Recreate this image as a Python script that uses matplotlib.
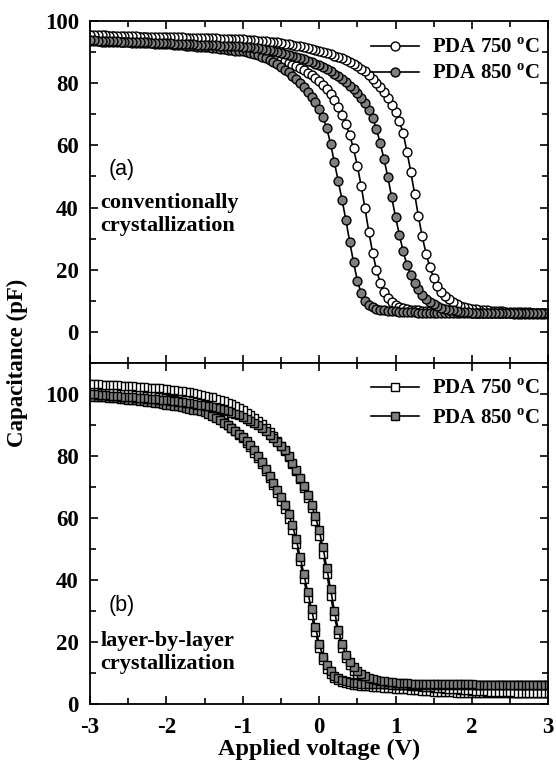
import numpy as np
import matplotlib
matplotlib.use("Agg")
import matplotlib.pyplot as plt
from matplotlib.ticker import MultipleLocator

plt.rcParams["font.family"] = ["Liberation Serif", "DejaVu Serif"]
plt.rcParams["font.weight"] = "bold"
plt.rcParams["axes.unicode_minus"] = False
plt.rcParams["mathtext.fontset"] = "custom"
plt.rcParams["mathtext.rm"] = "Liberation Serif:bold"
plt.rcParams["mathtext.bf"] = "Liberation Serif:bold"

# applied voltage grid, -3 V to 3 V in 0.05 V steps
volts = np.linspace(-3, 3, 121)

# (a) conventionally crystallized, PDA 750 C (two sweep branches)
cap_a750_right = [
    95.6, 95.5, 95.5, 95.4, 95.4, 95.3, 95.3, 95.3, 95.2, 95.2,
    95.1, 95.1, 95.1, 95.0, 95.0, 95.0, 94.9, 94.9, 94.9, 94.8,
    94.8, 94.8, 94.7, 94.7, 94.7, 94.6, 94.6, 94.6, 94.5, 94.5,
    94.5, 94.4, 94.4, 94.4, 94.3, 94.3, 94.3, 94.2, 94.2, 94.1,
    94.1, 94.0, 93.9, 93.8, 93.7, 93.6, 93.5, 93.4, 93.2, 93.1,
    92.9, 92.7, 92.5, 92.3, 92.1, 91.9, 91.6, 91.3, 91.0, 90.7,
    90.4, 90.0, 89.7, 89.3, 88.9, 88.5, 88.0, 87.5, 86.9, 86.3,
    85.5, 84.7, 83.8, 82.7, 81.5, 80.2, 78.8, 77.2, 75.2, 73.0,
    70.6, 67.8, 64.0, 58.0, 51.5, 44.5, 37.2, 30.7, 25.2, 20.8,
    17.4, 14.9, 13.0, 11.6, 10.5, 9.7, 9.0, 8.5, 8.1, 7.8,
    7.5, 7.3, 7.1, 7.0, 6.9, 6.8, 6.7, 6.6, 6.6, 6.5,
    6.5, 6.4, 6.4, 6.3, 6.3, 6.3, 6.2, 6.2, 6.2, 6.1,
    6.1,
]
cap_a750_left = [
    95.4, 95.3, 95.3, 95.2, 95.2, 95.1, 95.1, 95.0, 95.0, 94.9,
    94.9, 94.8, 94.8, 94.7, 94.7, 94.6, 94.5, 94.5, 94.4, 94.3,
    94.3, 94.2, 94.1, 94.0, 93.9, 93.8, 93.7, 93.6, 93.5, 93.3,
    93.2, 93.0, 92.9, 92.7, 92.5, 92.3, 92.1, 91.9, 91.7, 91.4,
    91.2, 90.9, 90.6, 90.3, 90.0, 89.6, 89.2, 88.8, 88.4, 88.0,
    87.5, 87.0, 86.5, 86.0, 85.4, 84.8, 84.1, 83.3, 82.5, 81.6,
    80.6, 79.4, 78.0, 76.4, 74.5, 72.3, 69.8, 66.8, 63.3, 59.0,
    53.5, 47.0, 39.8, 32.3, 25.5, 20.0, 15.8, 12.8, 10.8, 9.5,
    8.7, 8.1, 7.7, 7.4, 7.2, 7.0, 6.9, 6.8, 6.7, 6.6,
    6.6, 6.5, 6.5, 6.4, 6.4, 6.4, 6.3, 6.3, 6.3, 6.3,
    6.2, 6.2, 6.2, 6.2, 6.2, 6.2, 6.1, 6.1, 6.1, 6.1,
    6.1, 6.1, 6.1, 6.1, 6.0, 6.0, 6.0, 6.0, 6.0, 6.0,
    6.0,
]
# (a) PDA 850 C
cap_a850_left = [
    93.6, 93.5, 93.5, 93.4, 93.4, 93.3, 93.3, 93.2, 93.2, 93.1,
    93.1, 93.0, 93.0, 92.9, 92.9, 92.8, 92.8, 92.7, 92.7, 92.6,
    92.6, 92.5, 92.4, 92.3, 92.2, 92.1, 92.0, 91.9, 91.8, 91.7,
    91.6, 91.5, 91.3, 91.2, 91.0, 90.9, 90.8, 90.6, 90.5, 90.3,
    90.2, 90.0, 89.7, 89.4, 89.0, 88.5, 88.0, 87.4, 86.8, 86.1,
    85.3, 84.4, 83.5, 82.4, 81.3, 80.1, 78.7, 77.3, 75.7, 73.9,
    71.7, 69.0, 65.5, 60.5, 54.5, 48.5, 42.5, 36.0, 29.0, 22.5,
    16.5, 12.5, 10.0, 8.8, 8.0, 7.5, 7.2, 7.0, 6.8, 6.7,
    6.6, 6.5, 6.4, 6.4, 6.3, 6.3, 6.2, 6.2, 6.2, 6.1,
    6.1, 6.1, 6.1, 6.1, 6.1, 6.1, 6.1, 6.1, 6.1, 6.1,
    6.1, 6.0, 6.0, 6.0, 6.0, 6.0, 6.0, 6.0, 6.0, 6.0,
    6.0, 5.9, 5.9, 5.9, 5.9, 5.9, 5.9, 5.9, 5.9, 5.9,
    5.9,
]
cap_a850_right = [
    93.8, 93.8, 93.7, 93.7, 93.6, 93.6, 93.5, 93.5, 93.4, 93.4,
    93.3, 93.3, 93.2, 93.2, 93.1, 93.1, 93.0, 93.0, 92.9, 92.9,
    92.8, 92.8, 92.7, 92.7, 92.6, 92.6, 92.5, 92.5, 92.4, 92.4,
    92.3, 92.3, 92.2, 92.2, 92.1, 92.1, 92.0, 92.0, 91.9, 91.9,
    91.8, 91.6, 91.5, 91.3, 91.2, 91.0, 90.8, 90.6, 90.4, 90.1,
    89.8, 89.5, 89.2, 88.9, 88.5, 88.1, 87.7, 87.3, 86.8, 86.3,
    85.7, 85.1, 84.5, 83.8, 83.1, 82.2, 81.3, 80.3, 79.2, 78.0,
    76.7, 75.2, 73.5, 71.5, 68.8, 65.3, 60.7, 55.5, 49.8, 43.3,
    37.0, 31.3, 26.0, 21.5, 18.3, 15.8, 13.8, 12.0, 10.7, 9.7,
    8.9, 8.3, 7.8, 7.4, 7.1, 6.9, 6.7, 6.5, 6.4, 6.3,
    6.2, 6.2, 6.2, 6.1, 6.1, 6.1, 6.1, 6.1, 6.1, 6.1,
    6.0, 6.0, 6.0, 6.0, 6.0, 6.0, 6.0, 6.0, 6.0, 6.0,
    6.0,
]

# (b) layer-by-layer crystallized, PDA 750 C
cap_b750_right = [
    103.2, 103.1, 103.1, 103.0, 103.0, 102.9, 102.9, 102.8, 102.7, 102.7,
    102.6, 102.5, 102.4, 102.3, 102.2, 102.1, 102.0, 101.9, 101.8, 101.7,
    101.5, 101.4, 101.2, 101.1, 100.9, 100.7, 100.5, 100.3, 100.0, 99.8,
    99.5, 99.2, 98.9, 98.5, 98.1, 97.7, 97.2, 96.7, 96.1, 95.5,
    94.8, 94.0, 93.2, 92.3, 91.3, 90.2, 89.0, 87.7, 86.3, 84.8,
    83.2, 81.5, 79.6, 77.5, 75.1, 72.5, 69.7, 66.6, 63.1, 59.0,
    54.2, 48.5, 42.0, 35.0, 28.3, 22.6, 18.2, 14.9, 12.5, 10.8,
    9.6, 8.7, 8.1, 7.6, 7.3, 7.0, 6.8, 6.6, 6.5, 6.4,
    6.3, 6.2, 6.1, 6.0, 5.9, 5.8, 5.7, 5.6, 5.5, 5.4,
    5.3, 5.2, 5.1, 5.0, 4.9, 4.8, 4.7, 4.6, 4.5, 4.4,
    4.3, 4.2, 4.2, 4.1, 4.0, 4.0, 3.9, 3.9, 3.8, 3.8,
    3.8, 3.7, 3.7, 3.7, 3.7, 3.6, 3.6, 3.6, 3.6, 3.6,
    3.6,
]
cap_b750_left = [
    101.6, 101.5, 101.5, 101.4, 101.3, 101.2, 101.1, 101.0, 100.9, 100.8,
    100.6, 100.5, 100.3, 100.2, 100.0, 99.8, 99.6, 99.4, 99.2, 99.0,
    98.7, 98.4, 98.1, 97.8, 97.5, 97.1, 96.7, 96.3, 95.8, 95.3,
    94.8, 94.1, 93.4, 92.6, 91.8, 90.9, 90.0, 89.0, 88.0, 86.9,
    85.7, 84.3, 82.8, 81.1, 79.3, 77.3, 75.1, 72.8, 70.5, 68.1,
    65.6, 62.9, 59.8, 56.1, 51.6, 46.1, 40.2, 34.3, 28.6, 23.2,
    18.2, 14.2, 11.4, 9.6, 8.4, 7.6, 7.1, 6.7, 6.4, 6.2,
    6.0, 5.9, 5.8, 5.7, 5.6, 5.5, 5.4, 5.3, 5.2, 5.1,
    5.0, 4.9, 4.8, 4.7, 4.6, 4.5, 4.4, 4.3, 4.2, 4.1,
    4.0, 4.0, 3.9, 3.9, 3.8, 3.8, 3.7, 3.7, 3.7, 3.6,
    3.6, 3.6, 3.6, 3.6, 3.6, 3.6, 3.5, 3.5, 3.5, 3.5,
    3.5, 3.5, 3.5, 3.5, 3.5, 3.5, 3.5, 3.5, 3.5, 3.5,
    3.5,
]
# (b) PDA 850 C
cap_b850_right = [
    100.0, 99.9, 99.8, 99.7, 99.6, 99.5, 99.4, 99.3, 99.2, 99.1,
    99.0, 98.9, 98.8, 98.7, 98.6, 98.5, 98.4, 98.3, 98.2, 98.1,
    98.0, 97.8, 97.7, 97.5, 97.4, 97.2, 97.0, 96.8, 96.6, 96.4,
    96.2, 96.0, 95.7, 95.4, 95.1, 94.8, 94.4, 94.0, 93.6, 93.1,
    92.6, 92.0, 91.4, 90.7, 89.9, 89.0, 88.0, 86.9, 85.8, 84.6,
    83.3, 81.8, 80.0, 77.9, 75.6, 73.0, 70.3, 67.4, 64.2, 60.5,
    56.0, 50.5, 44.0, 37.0, 30.0, 24.0, 19.3, 15.9, 13.5, 11.8,
    10.5, 9.6, 9.0, 8.5, 8.1, 7.8, 7.5, 7.3, 7.1, 7.0,
    6.9, 6.8, 6.7, 6.7, 6.6, 6.6, 6.5, 6.5, 6.4, 6.4,
    6.4, 6.3, 6.3, 6.3, 6.3, 6.3, 6.3, 6.3, 6.3, 6.3,
    6.3, 6.2, 6.2, 6.2, 6.2, 6.2, 6.2, 6.2, 6.2, 6.2,
    6.2, 6.1, 6.1, 6.1, 6.1, 6.1, 6.1, 6.1, 6.1, 6.1,
    6.1,
]
cap_b850_left = [
    99.3, 99.2, 99.1, 99.0, 98.9, 98.8, 98.7, 98.6, 98.5, 98.4,
    98.2, 98.1, 98.0, 97.8, 97.7, 97.5, 97.4, 97.2, 97.0, 96.8,
    96.6, 96.4, 96.2, 96.0, 95.8, 95.5, 95.3, 95.0, 94.7, 94.4,
    94.1, 93.6, 93.0, 92.3, 91.6, 90.8, 90.0, 89.1, 88.2, 87.2,
    86.2, 84.9, 83.4, 81.8, 80.0, 78.0, 75.8, 73.6, 71.4, 69.2,
    66.8, 64.2, 61.2, 57.6, 53.2, 47.5, 41.8, 36.0, 30.5, 25.0,
    19.5, 15.3, 12.5, 10.6, 9.2, 8.3, 7.7, 7.3, 7.0, 6.8,
    6.7, 6.6, 6.5, 6.5, 6.4, 6.4, 6.3, 6.3, 6.3, 6.2,
    6.2, 6.2, 6.2, 6.2, 6.2, 6.2, 6.2, 6.2, 6.2, 6.2,
    6.2, 6.1, 6.1, 6.1, 6.1, 6.1, 6.1, 6.1, 6.1, 6.1,
    6.1, 6.0, 6.0, 6.0, 6.0, 6.0, 6.0, 6.0, 6.0, 6.0,
    6.0, 6.0, 6.0, 6.0, 6.0, 6.0, 6.0, 6.0, 6.0, 6.0,
    6.0,
]

labels = ["PDA 750 $^{\\rm o}$C", "PDA 850 $^{\\rm o}$C"]
GRAY = "#7f7f7f"


def sweep(left, right):
    # forward sweep on one branch, reverse sweep on the other
    x = np.concatenate([volts, volts[::-1]])
    y = np.concatenate([np.array(left), np.array(right)[::-1]])
    return x, y


fig = plt.figure(figsize=(5.56, 7.67), dpi=100)
ax_a = fig.add_axes((0.162, 0.5267, 0.824, 0.4459))
ax_b = fig.add_axes((0.162, 0.0821, 0.824, 0.4446), sharex=ax_a)

# ---- panel (a) ----
x, y = sweep(cap_a750_left, cap_a750_right)
ax_a.plot(x, y, "-o", color="black", lw=1.2, ms=6.4, mfc="white",
          mec="black", mew=1.0, label=labels[0])
x, y = sweep(cap_a850_left, cap_a850_right)
ax_a.plot(x, y, "-o", color="black", lw=1.2, ms=6.4, mfc=GRAY,
          mec="black", mew=1.0, label=labels[1])
ax_a.set_ylim(-10, 100)
ax_a.yaxis.set_major_locator(MultipleLocator(20))
ax_a.yaxis.set_minor_locator(MultipleLocator(10))
ax_a.tick_params(labelbottom=False)

ax_a.text(0.04, 0.565, "(a)", transform=ax_a.transAxes, fontsize=15.5,
          family="Liberation Sans", weight="normal", va="center")
ax_a.text(0.022, 0.434, "conventionally\ncrystallization",
          transform=ax_a.transAxes, fontsize=16, va="center",
          linespacing=1.2)

# ---- panel (b) ----
x, y = sweep(cap_b750_left, cap_b750_right)
ax_b.plot(x, y, "-s", color="black", lw=1.2, ms=5.8, mfc="white",
          mec="black", mew=1.0, label=labels[0])
x, y = sweep(cap_b850_left, cap_b850_right)
ax_b.plot(x, y, "-s", color="black", lw=1.2, ms=5.8, mfc=GRAY,
          mec="black", mew=1.0, label=labels[1])
ax_b.set_ylim(0, 110)
ax_b.yaxis.set_major_locator(MultipleLocator(20))
ax_b.yaxis.set_minor_locator(MultipleLocator(10))

ax_b.text(0.04, 0.29, "(b)", transform=ax_b.transAxes, fontsize=15.5,
          family="Liberation Sans", weight="normal", va="center")
ax_b.text(0.022, 0.151, "layer-by-layer\ncrystallization",
          transform=ax_b.transAxes, fontsize=16, va="center",
          linespacing=1.2)

ax_b.set_xlim(-3, 3)
ax_b.xaxis.set_major_locator(MultipleLocator(1))
ax_b.xaxis.set_minor_locator(MultipleLocator(0.5))
ax_b.set_xlabel("Applied voltage (V)", fontsize=17.5, fontweight="bold",
                labelpad=1)

for ax in (ax_a, ax_b):
    for s in ax.spines.values():
        s.set_linewidth(1.3)
    ax.tick_params(which="both", direction="in", top=True, right=True,
                   width=1.2, labelsize=16.5)
    ax.tick_params(which="major", length=6)
    ax.tick_params(which="minor", length=4)
    ax.tick_params(axis="y", pad=8)
    ax.tick_params(axis="x", pad=9)
    for t in ax.get_xticklabels() + ax.get_yticklabels():
        t.set_fontweight("bold")

ax_a.legend(loc="upper right", bbox_to_anchor=(1.0, 0.974), frameon=False,
            fontsize=15, handlelength=2.3, handletextpad=0.6,
            labelspacing=0.3, borderaxespad=0.2, borderpad=0.2)
ax_b.legend(loc="upper right", bbox_to_anchor=(1.0, 0.977), frameon=False,
            fontsize=15, handlelength=2.3, handletextpad=0.6,
            labelspacing=0.45, borderaxespad=0.2, borderpad=0.2)

fig.text(0.032, 0.527, "Capacitance (pF)", rotation=90, fontsize=16.5,
         fontweight="bold", ha="center", va="center")

fig.savefig("out.png", dpi=100)
